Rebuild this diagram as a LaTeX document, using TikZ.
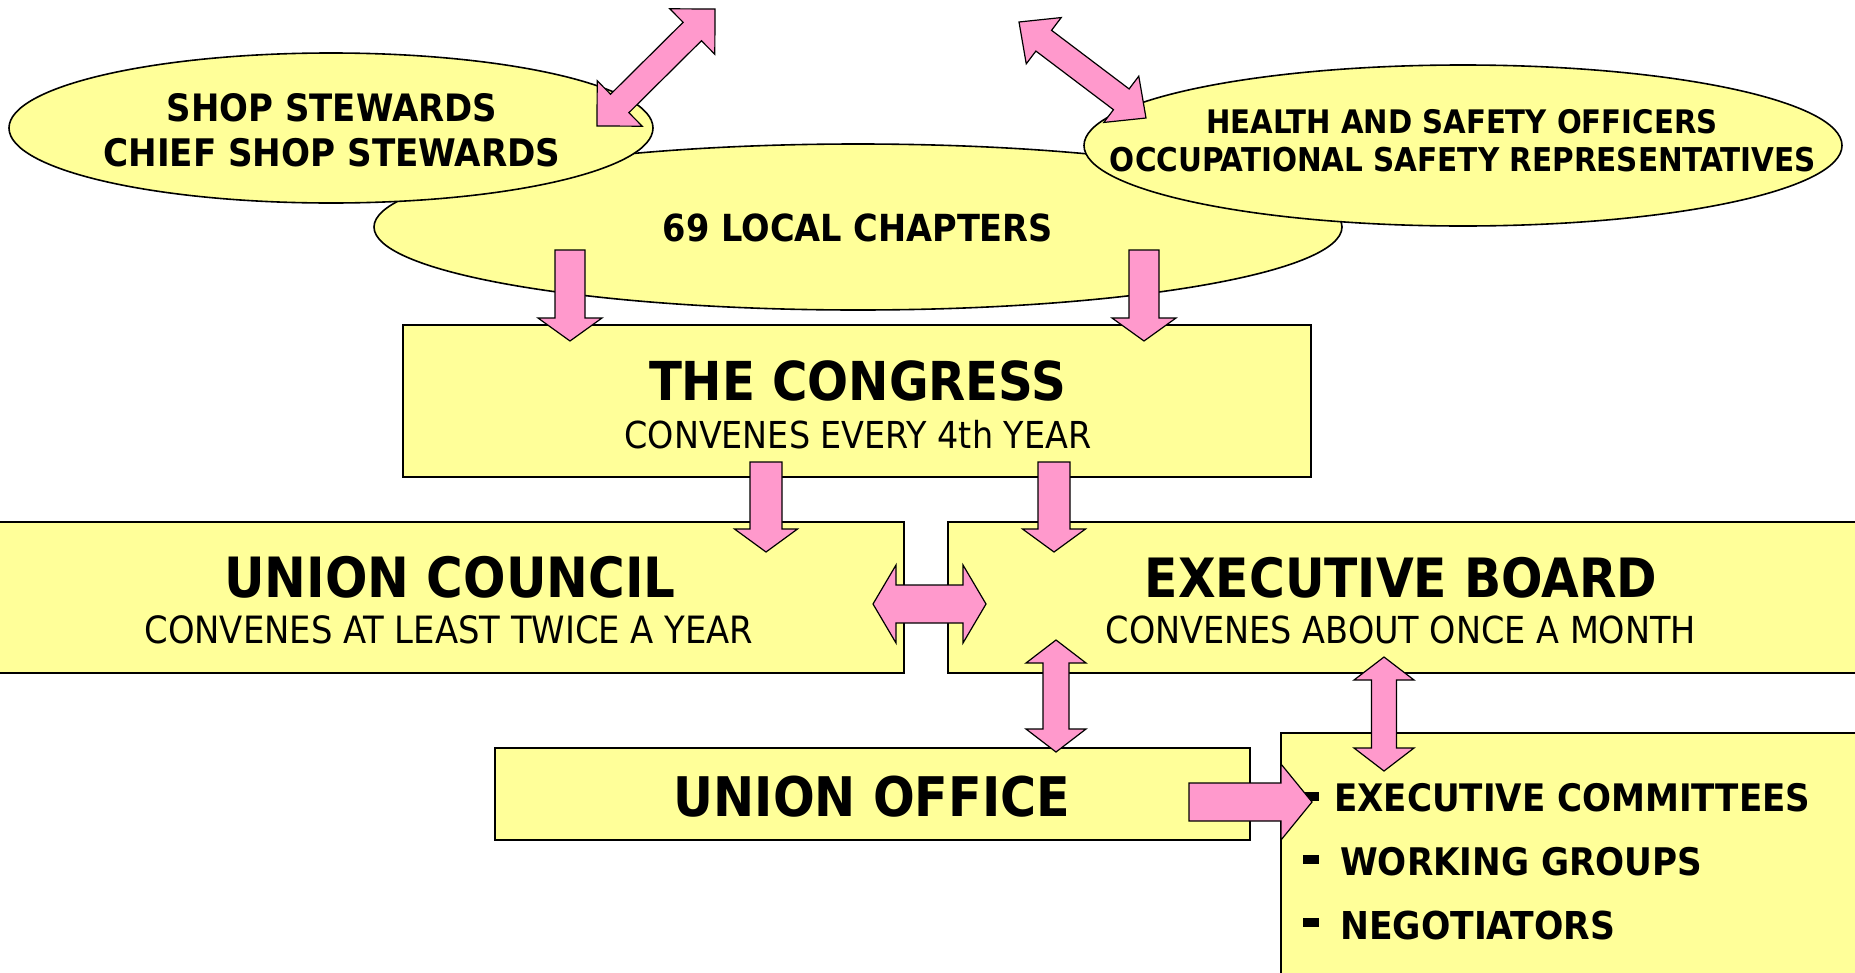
\documentclass[tikz,border=0pt]{standalone}
\usepackage{fontspec}
\setmainfont{DejaVu Sans Condensed}
\usepackage{graphicx}
\usetikzlibrary{shapes.geometric}
\definecolor{boxyellow}{HTML}{FFFF99}
\definecolor{arrowpink}{HTML}{FF99CC}
\tikzset{
  ybox/.style={draw=black, fill=boxyellow, line width=1.6pt, rectangle, inner sep=0pt},
  yell/.style={draw=black, fill=boxyellow, line width=1.6pt, ellipse, inner sep=0pt},
  txt/.style={inner sep=0pt, text=black},
  blockarr/.style={draw=black, fill=arrowpink, line width=1.2pt, line join=miter},
  bulletsq/.style={fill=black, inner sep=0pt, minimum width=16pt, minimum height=9pt, rectangle}
}
\newcommand\bt[2]{\resizebox{#1pt}{!}{\bfseries #2}}
\newcommand\rt[2]{\resizebox{#1pt}{!}{#2}}
% double block arrow between two named coordinates
\newcommand\dblarrow[5]{%
  \path (#1); \pgfgetlastxy{\axa}{\aya}%
  \path (#2); \pgfgetlastxy{\axb}{\ayb}%
  \pgfmathsetmacro\arrang{atan2((\ayb)-(\aya),(\axb)-(\axa))}%
  \pgfmathsetmacro\arrlen{veclen((\axb)-(\axa),(\ayb)-(\aya))}%
  \begin{scope}[shift={(\axa,\aya)},rotate=\arrang]
    \draw[blockarr] (0,0) -- (#5,#4) -- (#5,#3) -- (\arrlen-#5,#3) -- (\arrlen-#5,#4)
      -- (\arrlen,0) -- (\arrlen-#5,-#4) -- (\arrlen-#5,-#3) -- (#5,-#3) -- (#5,-#4) -- cycle;
  \end{scope}}
% single block arrow
\newcommand\sglarrow[5]{%
  \path (#1); \pgfgetlastxy{\axa}{\aya}%
  \path (#2); \pgfgetlastxy{\axb}{\ayb}%
  \pgfmathsetmacro\arrang{atan2((\ayb)-(\aya),(\axb)-(\axa))}%
  \pgfmathsetmacro\arrlen{veclen((\axb)-(\axa),(\ayb)-(\aya))}%
  \begin{scope}[shift={(\axa,\aya)},rotate=\arrang]
    \draw[blockarr] (0,#3) -- (\arrlen-#5,#3) -- (\arrlen-#5,#4) -- (\arrlen,0)
      -- (\arrlen-#5,-#4) -- (\arrlen-#5,-#3) -- (0,-#3) -- cycle;
  \end{scope}}
\begin{document}
\begin{tikzpicture}[x=1pt,y=1pt]
\useasboundingbox (0,0) rectangle (1855,-972);
\clip (0,0) rectangle (1855,-972);
\fill[white] (0,0) rectangle (1855,-972);

% ellipses
\node[yell, minimum width=968pt, minimum height=166pt] (local) at (858,-227) {};
\node[yell, minimum width=644pt, minimum height=150pt] (shop) at (331,-128) {};
\node[yell, minimum width=758pt, minimum height=161pt] (health) at (1463,-145.5) {};

% boxes
\node[ybox, minimum width=908pt, minimum height=152pt] (congress) at (857,-401) {};
\node[ybox, minimum width=909pt, minimum height=151pt] (council) at (449.5,-597.5) {};
\node[ybox, minimum width=917pt, minimum height=151pt] (exec) at (1406.5,-597.5) {};
\node[ybox, minimum width=755pt, minimum height=92pt] (office) at (872.5,-794) {};
\node[ybox, minimum width=584pt, minimum height=252pt] (comm) at (1573,-859) {};

% texts
\node[txt] (shopA) at (332,-108) {\bt{330}{SHOP STEWARDS}};
\node[txt] (shopB) at (332,-153) {\bt{457}{CHIEF SHOP STEWARDS}};
\node[txt] (localT) at (858,-228) {\bt{390}{69 LOCAL CHAPTERS}};
\node[txt] (healthA) at (1462,-122) {\bt{511}{HEALTH AND SAFETY OFFICERS}};
\node[txt] (healthB) at (1463,-160) {\bt{706}{OCCUPATIONAL SAFETY REPRESENTATIVES}};
\node[txt] (congA) at (857.5,-381) {\bt{417}{THE CONGRESS}};
\node[txt] (congB) at (858,-435) {\rt{467}{CONVENES EVERY 4th YEAR}};
\node[txt] (councA) at (450,-577.5) {\bt{451}{UNION COUNCIL}};
\node[txt] (councB) at (449,-630) {\rt{609}{CONVENES AT LEAST TWICE A YEAR}};
\node[txt] (execA) at (1401,-577.5) {\bt{512}{EXECUTIVE BOARD}};
\node[txt] (execB) at (1401,-630) {\rt{590}{CONVENES ABOUT ONCE A MONTH}};
\node[txt] (officeT) at (872,-796.5) {\bt{396}{UNION OFFICE}};
\node[txt, anchor=west] (commA) at (1334,-797.5) {\bt{476}{EXECUTIVE COMMITTEES}};
\node[txt, anchor=west] (commB) at (1340,-862) {\bt{362}{WORKING GROUPS}};
\node[txt, anchor=west] (commC) at (1340,-925.5) {\bt{275}{NEGOTIATORS}};
\node[bulletsq] (bulA) at (1311,-796.5) {};
\node[bulletsq] (bulB) at (1311,-859.5) {};
\node[bulletsq] (bulC) at (1311,-922.5) {};

% arrow end coordinates
\coordinate (a1s) at (597,-126);  \coordinate (a1e) at (715,-9);
\coordinate (a2s) at (1019,-22);  \coordinate (a2e) at (1146,-118);
\coordinate (l1s) at (570,-250);  \coordinate (l1e) at (570,-341);
\coordinate (l2s) at (1144,-250); \coordinate (l2e) at (1144,-341);
\coordinate (c1s) at (766,-462);  \coordinate (c1e) at (766,-552);
\coordinate (c2s) at (1054,-462); \coordinate (c2e) at (1054,-552);
\coordinate (hs) at (873,-604);   \coordinate (he) at (986,-604);
\coordinate (v1s) at (1056,-640); \coordinate (v1e) at (1056,-752);
\coordinate (v2s) at (1384,-657); \coordinate (v2e) at (1384,-771);
\coordinate (rs) at (1189,-802);  \coordinate (re) at (1312,-802);

% arrows
\dblarrow{a1s}{a1e}{13}{32}{32}
\dblarrow{a2s}{a2e}{13}{29}{31}
\sglarrow{l1s}{l1e}{15}{32}{23}
\sglarrow{l2s}{l2e}{15}{32}{23}
\sglarrow{c1s}{c1e}{16}{31.5}{23}
\sglarrow{c2s}{c2e}{16}{31.5}{23}
\dblarrow{hs}{he}{19}{39}{23}
\dblarrow{v1s}{v1e}{13}{30}{23}
\dblarrow{v2s}{v2e}{12.5}{30}{23}
\sglarrow{rs}{re}{19}{38}{31}
\end{tikzpicture}
\end{document}
